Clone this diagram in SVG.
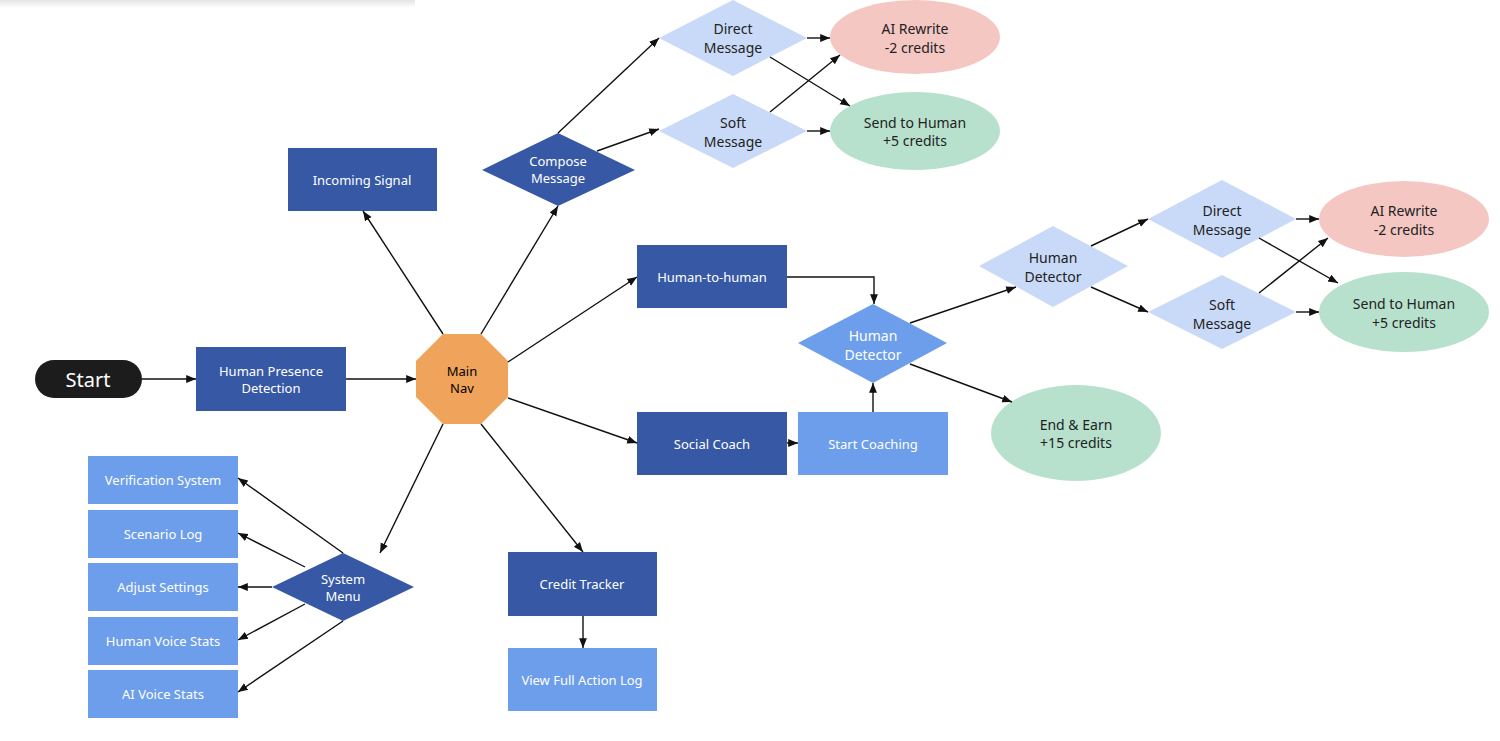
<svg xmlns="http://www.w3.org/2000/svg" width="1500" height="741" viewBox="0 0 1500 741">
<defs>
<marker id="ah" viewBox="0 0 10 10" refX="10" refY="5" markerWidth="7" markerHeight="7" orient="auto"><path d="M0,1 L10,5 L0,9 z" fill="#111"/></marker>
<linearGradient id="sh" x1="0" y1="0" x2="0" y2="1"><stop offset="0" stop-color="#e4e4e4"/><stop offset="1" stop-color="#ffffff"/></linearGradient>
</defs>
<style>
text{font-family:"Noto Sans","Open Sans","DejaVu Sans",sans-serif;font-size:13px;text-anchor:middle;dominant-baseline:central}
.dk{fill:#3759a5}.md{fill:#6d9eeb}.lt{fill:#c9daf8}.pk{fill:#f4c7c3}.gr{fill:#b7e1cd}
.w{fill:#fff}.b{fill:#222;font-size:14px}
#connectors line,#connectors path{stroke:#111;stroke-width:1.4;fill:none;marker-end:url(#ah)}
</style>
<rect x="0" y="0" width="415" height="8" fill="url(#sh)"/>
<rect width="1500" height="741" fill="none"/>
<g id="start"><rect x="35" y="360" width="107" height="38" rx="19" fill="#1c1c1c"/><text x="88" y="379" class="w" style="font-size:20px">Start</text></g>
<g id="hpd"><rect x="196" y="347" width="150" height="64" class="dk"/><text x="271" y="371" class="w">Human Presence</text><text x="271" y="388" class="w">Detection</text></g>
<g id="mainnav"><polygon points="443,334 481,334 508,361 508,397 481,424 443,424 416,397 416,361" fill="#f0a35a"/><text x="462" y="371">Main</text><text x="462" y="388">Nav</text></g>
<g id="incoming"><rect x="288" y="148" width="149" height="63" class="dk"/><text x="362" y="180" class="w">Incoming Signal</text></g>
<g id="compose"><polygon points="558,133 635,170 558,206 482,170" class="dk"/><text x="558" y="161" class="w">Compose</text><text x="558" y="178" class="w">Message</text></g>
<g id="direct1"><polygon points="733,0 807,38 733,76 659,38" class="lt"/><text x="733" y="28" class="b">Direct</text><text x="733" y="47" class="b">Message</text></g>
<g id="soft1"><polygon points="733,94 807,131 733,168 659,131" class="lt"/><text x="733" y="122" class="b">Soft</text><text x="733" y="141" class="b">Message</text></g>
<g id="ai1"><ellipse cx="915" cy="37" rx="85" ry="37" class="pk"/><text x="915" y="28" class="b">AI Rewrite</text><text x="915" y="47" class="b">-2 credits</text></g>
<g id="send1"><ellipse cx="915" cy="131" rx="85" ry="39" class="gr"/><text x="915" y="122" class="b">Send to Human</text><text x="915" y="140" class="b">+5 credits</text></g>
<g id="h2h"><rect x="637" y="245" width="150" height="63" class="dk"/><text x="712" y="277" class="w">Human-to-human</text></g>
<g id="social"><rect x="637" y="412" width="150" height="63" class="dk"/><text x="712" y="444" class="w">Social Coach</text></g>
<g id="coaching"><rect x="798" y="412" width="150" height="63" class="md"/><text x="873" y="444" class="w">Start Coaching</text></g>
<g id="hd1"><polygon points="873,304 947,343 873,383 798,343" class="md"/><text x="873" y="335" class="w" style="font-size:14px">Human</text><text x="873" y="354" class="w" style="font-size:14px">Detector</text></g>
<g id="hd2"><polygon points="1053,226 1128,266 1053,307 979,266" class="lt"/><text x="1053" y="257" class="b">Human</text><text x="1053" y="276" class="b">Detector</text></g>
<g id="direct2"><polygon points="1222,180 1296,219 1222,258 1148,219" class="lt"/><text x="1222" y="210" class="b">Direct</text><text x="1222" y="229" class="b">Message</text></g>
<g id="soft2"><polygon points="1222,275 1296,312 1222,349 1148,312" class="lt"/><text x="1222" y="304" class="b">Soft</text><text x="1222" y="323" class="b">Message</text></g>
<g id="ai2"><ellipse cx="1404" cy="219" rx="85" ry="38" class="pk"/><text x="1404" y="210" class="b">AI Rewrite</text><text x="1404" y="229" class="b">-2 credits</text></g>
<g id="send2"><ellipse cx="1404" cy="312" rx="85" ry="40" class="gr"/><text x="1404" y="303" class="b">Send to Human</text><text x="1404" y="322" class="b">+5 credits</text></g>
<g id="end"><ellipse cx="1076" cy="433" rx="85" ry="48" class="gr"/><text x="1076" y="424" class="b">End &amp; Earn</text><text x="1076" y="442" class="b">+15 credits</text></g>
<g id="credit"><rect x="508" y="552" width="149" height="64" class="dk"/><text x="582" y="584" class="w">Credit Tracker</text></g>
<g id="actionlog"><rect x="508" y="648" width="149" height="63" class="md"/><text x="582" y="680" class="w">View Full Action Log</text></g>
<g id="sysmenu"><polygon points="343,553 414,587 343,621 272,587" class="dk"/><text x="343" y="579" class="w">System</text><text x="343" y="596" class="w">Menu</text></g>
<g id="verif"><rect x="88" y="456" width="150" height="48" class="md"/><text x="163" y="480" class="w">Verification System</text></g>
<g id="scen"><rect x="88" y="510" width="150" height="48" class="md"/><text x="163" y="534" class="w">Scenario Log</text></g>
<g id="adjust"><rect x="88" y="563" width="150" height="48" class="md"/><text x="163" y="587" class="w">Adjust Settings</text></g>
<g id="hvs"><rect x="88" y="617" width="150" height="48" class="md"/><text x="163" y="641" class="w">Human Voice Stats</text></g>
<g id="aivs"><rect x="88" y="670" width="150" height="48" class="md"/><text x="163" y="694" class="w">AI Voice Stats</text></g>
<g id="connectors">
<line x1="142" y1="379" x2="196" y2="379"/>
<line x1="346" y1="379" x2="416" y2="379"/>
<line x1="443" y1="334" x2="363" y2="211"/>
<line x1="481" y1="334" x2="558" y2="206"/>
<line x1="508" y1="362" x2="637" y2="277"/>
<line x1="508" y1="398" x2="637" y2="443"/>
<line x1="481" y1="424" x2="583" y2="552"/>
<line x1="443" y1="424" x2="380" y2="553"/>
<line x1="343" y1="553" x2="238" y2="478"/>
<line x1="305" y1="567" x2="238" y2="533"/>
<line x1="272" y1="587" x2="238" y2="587"/>
<line x1="305" y1="604" x2="238" y2="640"/>
<line x1="343" y1="621" x2="238" y2="692"/>
<line x1="558" y1="133" x2="659" y2="38"/>
<line x1="597" y1="151" x2="659" y2="129"/>
<line x1="807" y1="38" x2="830" y2="38"/>
<line x1="770" y1="57" x2="850" y2="106"/>
<line x1="770" y1="112" x2="840" y2="55"/>
<line x1="807" y1="131" x2="830" y2="131"/>
<path d="M787,277 H874 V304"/>
<line x1="787" y1="443" x2="798" y2="443"/>
<line x1="873" y1="412" x2="873" y2="383"/>
<line x1="910" y1="323" x2="1016" y2="287"/>
<line x1="910" y1="364" x2="1012" y2="402"/>
<line x1="1091" y1="246" x2="1148" y2="219"/>
<line x1="1091" y1="287" x2="1148" y2="312"/>
<line x1="1296" y1="219" x2="1319" y2="219"/>
<line x1="1259" y1="238" x2="1338" y2="283"/>
<line x1="1259" y1="293" x2="1328" y2="238"/>
<line x1="1296" y1="312" x2="1319" y2="312"/>
<line x1="583" y1="616" x2="583" y2="648"/>
</g>
</svg>
